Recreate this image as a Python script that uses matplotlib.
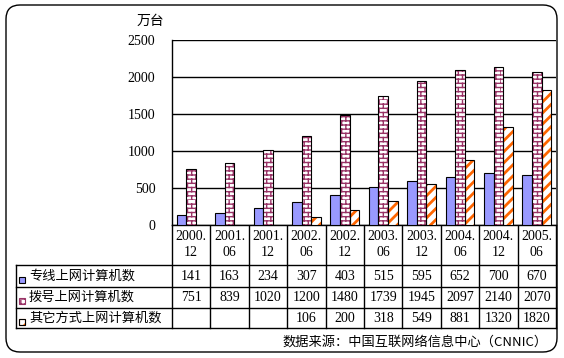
import warnings
import numpy as np
import matplotlib
matplotlib.use("Agg")
import matplotlib.pyplot as plt
import matplotlib.hatch as mhatch
from matplotlib.path import Path
from matplotlib.patches import FancyBboxPatch, Rectangle

warnings.filterwarnings('ignore')
plt.rcParams['font.family'] = ['Noto Sans CJK SC', 'DejaVu Sans']


# brick pattern, drawn for hatch strings containing 'b'
class BrickHatch(mhatch.HatchPatternBase):
    def __init__(self, hatch, density):
        self.rows = 24 if 'b' in hatch else 0
        self.cols = 12
        self.num_vertices = self.rows * 2 * (1 + self.cols)

    def set_vertices_and_codes(self, vertices, codes):
        k = 0
        h = 1.0 / self.rows
        for i in range(self.rows):
            y = i * h
            vertices[k] = (0, y); vertices[k + 1] = (1, y)
            codes[k] = Path.MOVETO; codes[k + 1] = Path.LINETO
            k += 2
            off = 0.5 * (i % 2)
            for j in range(self.cols):
                xx = (j + off) / self.cols
                vertices[k] = (xx, y); vertices[k + 1] = (xx, y + h)
                codes[k] = Path.MOVETO; codes[k + 1] = Path.LINETO
                k += 2


mhatch._hatch_types.append(BrickHatch)

periods = ['2000.\n12', '2001.\n06', '2001.\n12', '2002.\n06', '2002.\n12',
           '2003.\n06', '2003.\n12', '2004.\n06', '2004.\n12', '2005.\n06']
leased = [141, 163, 234, 307, 403, 515, 595, 652, 700, 670]
dialup = [751, 839, 1020, 1200, 1480, 1739, 1945, 2097, 2140, 2070]
other = [np.nan, np.nan, np.nan, 106, 200, 318, 549, 881, 1320, 1820]
series_names = ['专线上网计算机数', '拨号上网计算机数', '其它方式上网计算机数']
y_ticks = [0, 500, 1000, 1500, 2000, 2500]
unit = '万台'
source = '数据来源：中国互联网络信息中心（CNNIC）'

W, H = 564, 358
fig = plt.figure(figsize=(W / 100, H / 100), dpi=100)

# layout in pixels
L, R, T, B = 172, 556, 40, 225
row_y = [225, 265, 287, 308, 328]
tab_left = 16

# pixel overlay for frame, table and texts
ov = fig.add_axes([0, 0, 1, 1], zorder=0)
ov.set_xlim(0, W)
ov.set_ylim(H, 0)
ov.axis('off')
ov.add_patch(FancyBboxPatch((6, 5), 551, 347, boxstyle='round,pad=0,rounding_size=14',
                            fill=False, ec='black', lw=1))

ax = fig.add_axes([L / W, 1 - B / H, (R - L) / W, (B - T) / H], zorder=1)
x = np.arange(len(periods))
bw = 0.25
serif = 'Liberation Serif'

ax.bar(x - bw, leased, bw, color='#9999FF', edgecolor='black', lw=0.8, zorder=3)
ax.bar(x, dialup, bw, color='white', edgecolor='#993366', hatch='b', lw=0, zorder=3)
ax.bar(x, dialup, bw, fill=False, edgecolor='black', lw=0.8, zorder=4)
with plt.rc_context({'hatch.linewidth': 2.0}):
    ax.bar(x + bw, other, bw, color='white', edgecolor='#FF6600', hatch='///', lw=0, zorder=3)
ax.bar(x + bw, other, bw, fill=False, edgecolor='black', lw=0.8, zorder=4)

ax.set_xlim(-0.5, len(periods) - 0.5)
ax.set_ylim(0, 2500)
ax.set_yticks(y_ticks)
ax.set_yticklabels([str(v) for v in y_ticks], family=serif, fontsize=10)
ax.tick_params(axis='y', length=0, pad=12)
ax.set_xticks([])
ax.grid(axis='y', color='black', lw=1, zorder=0)
for s in ['top', 'right']:
    ax.spines[s].set_visible(False)
ax.spines['left'].set_linewidth(1)
ax.spines['bottom'].set_linewidth(1)

ov.text(150, 21, unit, ha='center', va='center', fontsize=10)

# data table
n = len(periods)
cw = (R - L) / n
for yy in row_y[1:]:
    ov.plot([tab_left, R], [yy, yy], color='black', lw=1)
ov.plot([tab_left, tab_left], [row_y[1], row_y[-1]], color='black', lw=1)
for i in range(n + 1):
    ov.plot([L + i * cw] * 2, [row_y[0], row_y[-1]], color='black', lw=1)

for i, p in enumerate(periods):
    cx = L + (i + 0.5) * cw
    top, bot = p.split('\n')
    ov.text(cx, 237, top, ha='center', va='center', family=serif, fontsize=10)
    ov.text(cx, 253, bot, ha='center', va='center', family=serif, fontsize=10)

rows = [leased, dialup, other]
for r, vals in enumerate(rows):
    cy = (row_y[r + 1] + row_y[r + 2]) / 2
    for i, v in enumerate(vals):
        if not np.isnan(v):
            ov.text(L + (i + 0.5) * cw, cy, str(int(v)), ha='center', va='center',
                    family=serif, fontsize=10)
    ov.text(29, cy, series_names[r], ha='left', va='center', fontsize=9.5)

# legend keys
ky = [277, 298, 319]
ov.add_patch(Rectangle((19, ky[0]), 6, 6, fc='#9999FF', ec='black', lw=0.8))
ov.add_patch(Rectangle((19, ky[1]), 6, 6, fc='white', ec='#993366', lw=0.8, hatch='b'))
with plt.rc_context({'hatch.linewidth': 2.0}):
    ov.add_patch(Rectangle((19, ky[2]), 6, 6, fc='white', ec='#FF6600', hatch='//', lw=0.8))
ov.add_patch(Rectangle((19, ky[2]), 6, 6, fill=False, ec='black', lw=0.8))

ov.text(548, 342, source, ha='right', va='center', fontsize=9.5)

fig.savefig('out.png', dpi=100)
